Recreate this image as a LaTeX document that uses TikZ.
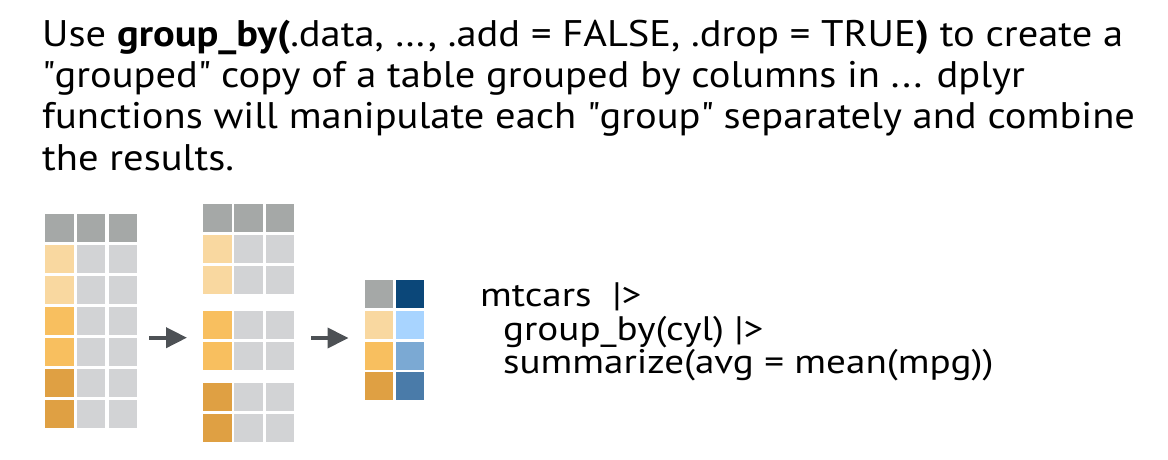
\documentclass[tikz,border=0pt]{standalone}
\usepackage{fontspec}
\setmainfont{PT Sans}[FakeStretch=1.095]
\newfontfamily\codefont{PT Sans}[FakeStretch=1.15]
\usetikzlibrary{arrows.meta,positioning}
\definecolor{hdr}{HTML}{A5A8A7}
\definecolor{cgray}{HTML}{D2D3D5}
\definecolor{org1}{HTML}{F9D8A0}
\definecolor{org2}{HTML}{F8BF5F}
\definecolor{org3}{HTML}{DFA043}
\definecolor{blu0}{HTML}{0B4779}
\definecolor{blu1}{HTML}{A8D4FF}
\definecolor{blu2}{HTML}{7BA9D3}
\definecolor{blu3}{HTML}{4A7BA9}
\definecolor{ink}{HTML}{4D5155}
\newcommand{\qq}[1]{\textquotedbl#1\textquotedbl}
\tikzset{
  cell/.style={minimum width=28.5pt, minimum height=28pt, inner sep=0pt,
               anchor=north west, draw=none},
  ar/.style  ={-{Triangle[length=21pt, width=20pt]}, line width=4pt, draw=ink},
  ttl/.style ={anchor=base west, inner sep=0pt, align=left,
               font=\fontsize{37}{41.3}\selectfont},
  code/.style={anchor=base west, inner sep=0pt, align=left,
               font=\codefont\fontsize{34}{33.3}\selectfont},
}

\begin{document}
\begin{tikzpicture}[x=1pt, y=-1pt]
\useasboundingbox (0,0) rectangle (1168,460);

% ---------------- title -------------------------------------------------------
\node[ttl] (title) at (42,170)
  {Use \textbf{group\_by(}.data, …, .add = FALSE, .drop = TRUE\textbf{)} to create a\\
   \qq{grouped} copy of a table grouped by columns in ... dplyr\\
   functions will manipulate each \qq{group} separately and combine\\
   the results.};

% ---------------- input table -------------------------------------------------
\foreach \r/\c/\g in {0/hdr/hdr, 1/org1/cgray, 2/org1/cgray, 3/org2/cgray,
                      4/org2/cgray, 5/org3/cgray, 6/org3/cgray}{
  \node[cell, fill=\c] (L-\r-1) at (45,    214+30.9*\r) {};
  \node[cell, fill=\g] (L-\r-2) at (76.7,  214+30.9*\r) {};
  \node[cell, fill=\g] (L-\r-3) at (108.7, 214+30.9*\r) {};
}

% ---------------- grouped table -----------------------------------------------
\foreach \r/\y/\c/\g in {0/204/hdr/hdr, 1/235/org1/cgray, 2/266/org1/cgray,
                         3/310.5/org2/cgray, 4/341.5/org2/cgray,
                         5/383/org3/cgray, 6/414/org3/cgray}{
  \node[cell, fill=\c] (G-\r-1) at (203,   \y) {};
  \node[cell, fill=\g] (G-\r-2) at (234,   \y) {};
  \node[cell, fill=\g] (G-\r-3) at (265.3, \y) {};
}

% ---------------- summary table -----------------------------------------------
\foreach \r/\y/\c/\b in {0/279.5/hdr/blu0, 1/310.5/org1/blu1,
                         2/341.3/org2/blu2, 3/372/org3/blu3}{
  \node[cell, fill=\c] (S-\r-1) at (364.3, \y) {};
  \node[cell, fill=\b] (S-\r-2) at (395.7, \y) {};
}

% ---------------- arrows ------------------------------------------------------
\coordinate (a1s) at (149,337.7);
\coordinate (a1e) at (187,337.7);
\coordinate (a2s) at (311,338);
\coordinate (a2e) at (348.5,338);
\draw[ar] (a1s) -- (a1e);
\draw[ar] (a2s) -- (a2e);

% ---------------- code --------------------------------------------------------
\node[code] (pipe) at (480,373.4)
  {mtcars\ \ |>\\
   \hspace*{23pt}group\_by(cyl) |>\\
   \hspace*{23pt}summarize(avg = mean(mpg))};

\end{tikzpicture}
\end{document}
